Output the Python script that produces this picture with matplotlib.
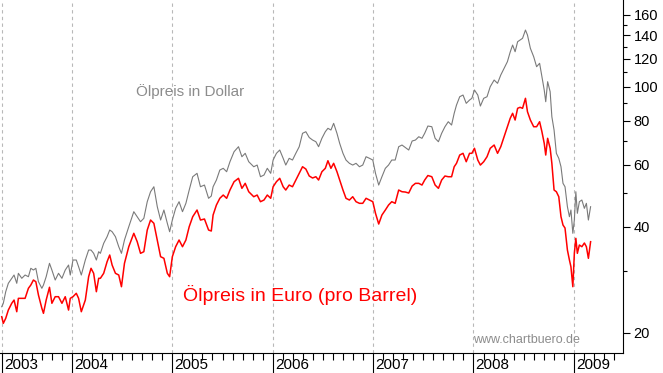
import matplotlib
matplotlib.use("Agg")
import matplotlib.pyplot as plt
from matplotlib.ticker import FixedLocator, NullFormatter, MultipleLocator

# time axis in decimal years, prices per barrel
t = [2003.300, 2003.316, 2003.340, 2003.366, 2003.400, 2003.423, 2003.450, 2003.466, 2003.500, 2003.533,
     2003.566, 2003.590, 2003.616, 2003.640, 2003.666, 2003.700, 2003.716, 2003.743, 2003.776, 2003.800,
     2003.833, 2003.866, 2003.900, 2003.933, 2003.966, 2003.983, 2004.010, 2004.043, 2004.066, 2004.093,
     2004.133, 2004.166, 2004.190, 2004.216, 2004.243, 2004.266, 2004.283, 2004.316, 2004.350, 2004.376,
     2004.400, 2004.433, 2004.466, 2004.493, 2004.523, 2004.566, 2004.616, 2004.650, 2004.683, 2004.716,
     2004.750, 2004.783, 2004.816, 2004.850, 2004.883, 2004.916, 2004.950, 2004.973, 2005.000, 2005.033,
     2005.067, 2005.101, 2005.135, 2005.168, 2005.203, 2005.246, 2005.280, 2005.320, 2005.361, 2005.388,
     2005.406, 2005.439, 2005.473, 2005.507, 2005.541, 2005.574, 2005.615, 2005.659, 2005.693, 2005.726,
     2005.761, 2005.811, 2005.845, 2005.878, 2005.913, 2005.946, 2005.980, 2006.004, 2006.037, 2006.070,
     2006.104, 2006.130, 2006.164, 2006.197, 2006.230, 2006.264, 2006.297, 2006.330, 2006.364, 2006.397,
     2006.430, 2006.457, 2006.490, 2006.524, 2006.550, 2006.580, 2006.607, 2006.640, 2006.667, 2006.700,
     2006.730, 2006.764, 2006.797, 2006.830, 2006.864, 2006.897, 2006.930, 2006.964, 2006.997, 2007.024,
     2007.056, 2007.088, 2007.122, 2007.154, 2007.186, 2007.220, 2007.255, 2007.288, 2007.321, 2007.355,
     2007.389, 2007.422, 2007.455, 2007.487, 2007.514, 2007.546, 2007.585, 2007.618, 2007.651, 2007.683,
     2007.716, 2007.749, 2007.782, 2007.808, 2007.831, 2007.863, 2007.896, 2007.928, 2007.961, 2007.984,
     2008.010, 2008.043, 2008.069, 2008.102, 2008.135, 2008.167, 2008.206, 2008.240, 2008.272, 2008.305,
     2008.338, 2008.366, 2008.390, 2008.415, 2008.440, 2008.464, 2008.489, 2008.518, 2008.538, 2008.567,
     2008.600, 2008.629, 2008.659, 2008.682, 2008.705, 2008.720, 2008.739, 2008.764, 2008.781, 2008.803,
     2008.826, 2008.850, 2008.872, 2008.892, 2008.912, 2008.936, 2008.956, 2008.971, 2008.990, 2009.005,
     2009.020, 2009.035, 2009.055, 2009.080, 2009.105, 2009.125, 2009.145, 2009.167]

oil_usd = [23.71, 24.25, 26.16, 27.64, 28.56, 29.18, 27.64, 29.51, 28.56, 29.18,
           28.86, 30.49, 30.15, 30.49, 27.93, 26.75, 27.33, 28.86, 31.50, 30.15,
           28.24, 29.51, 28.56, 30.15, 31.15, 29.18, 32.19, 32.19, 30.81, 29.18,
           32.19, 34.36, 34.36, 33.63, 32.19, 33.99, 33.63, 35.91, 37.50, 39.17,
           38.74, 37.50, 35.12, 33.63, 36.69, 40.03, 44.16, 42.74, 41.36, 42.29,
           47.15, 50.33, 52.00, 45.63, 41.82, 44.65, 40.93, 38.74, 41.82, 45.15,
           47.15, 44.16, 46.65, 50.89, 55.52, 56.77, 52.00, 52.58, 48.21, 48.93,
           52.00, 54.33, 58.00, 58.66, 57.37, 61.25, 65.40, 67.57, 63.29, 64.71,
           61.25, 59.27, 59.93, 55.52, 56.14, 58.66, 56.77, 61.93, 64.71, 66.12,
           62.63, 59.93, 62.63, 61.93, 64.71, 67.57, 73.76, 74.54, 71.76, 70.59,
           69.82, 67.57, 71.39, 74.54, 76.22, 75.37, 78.75, 73.76, 69.09, 64.71,
           61.93, 60.61, 59.93, 60.61, 59.27, 59.93, 63.29, 62.63, 61.93, 56.77,
           52.58, 55.52, 58.66, 59.93, 61.93, 61.93, 67.57, 68.32, 67.22, 66.12,
           70.14, 70.59, 72.13, 71.39, 73.76, 77.37, 77.02, 71.39, 69.82, 73.76,
           77.02, 79.58, 77.87, 84.08, 88.76, 93.72, 94.76, 89.76, 91.71, 92.75,
           97.92, 94.76, 88.19, 92.75, 93.72, 100.07, 104.54, 102.32, 108.02, 112.87,
           117.86, 125.57, 131.44, 125.82, 134.34, 135.83, 137.36, 145.01, 140.34, 128.65,
           121.77, 114.07, 116.63, 106.84, 97.92, 90.71, 103.40, 96.85, 82.23, 75.37,
           64.71, 62.63, 59.27, 53.17, 52.00, 45.63, 42.74, 44.65, 38.34, 41.82,
           50.33, 43.70, 47.15, 47.67, 45.15, 46.65, 41.82, 45.63]

oil_eur = [22.21, 21.27, 21.98, 23.20, 24.25, 24.77, 22.95, 25.05, 25.05, 25.05,
           26.75, 27.33, 28.24, 27.93, 25.60, 23.47, 22.71, 24.77, 26.93, 24.25,
           25.32, 25.32, 24.25, 25.32, 23.20, 25.05, 25.32, 25.89, 25.05, 22.95,
           24.77, 28.86, 30.49, 29.51, 26.16, 28.56, 28.56, 29.51, 31.84, 33.26,
           31.15, 29.51, 29.18, 27.03, 31.50, 35.12, 38.34, 36.29, 33.63, 33.99,
           39.17, 41.82, 40.93, 36.69, 32.90, 32.55, 29.51, 28.86, 32.90, 35.12,
           36.69, 35.12, 36.69, 40.03, 42.74, 44.65, 41.82, 42.10, 39.17, 38.92,
           43.21, 46.13, 48.21, 49.25, 48.21, 50.89, 53.74, 54.95, 51.46, 53.17,
           50.33, 48.71, 49.25, 47.15, 47.67, 49.25, 48.21, 52.00, 53.74, 54.95,
           52.00, 50.89, 52.58, 52.00, 54.33, 56.77, 59.27, 58.39, 55.78, 55.06,
           55.52, 54.33, 57.37, 58.66, 61.65, 58.66, 60.61, 57.37, 54.33, 50.89,
           48.21, 47.67, 48.71, 47.15, 46.65, 46.65, 48.21, 47.67, 47.15, 43.70,
           40.74, 43.21, 44.65, 46.13, 47.15, 46.65, 50.89, 50.33, 50.23, 49.90,
           52.24, 53.17, 53.17, 52.58, 54.33, 55.96, 55.52, 52.58, 51.46, 54.33,
           55.78, 55.52, 55.52, 59.27, 60.61, 63.99, 64.71, 61.25, 64.71, 64.71,
           66.87, 61.93, 59.93, 61.25, 63.29, 66.87, 68.32, 64.71, 67.57, 72.13,
           77.02, 81.37, 84.08, 80.46, 86.88, 87.45, 86.88, 92.75, 84.97, 80.46,
           77.02, 77.02, 79.58, 74.54, 69.09, 63.99, 71.39, 66.87, 60.61, 50.89,
           50.33, 48.71, 42.74, 40.47, 39.69, 34.36, 32.19, 30.81, 27.03, 33.63,
           37.10, 33.63, 35.51, 35.12, 35.98, 35.12, 32.55, 36.29]

years = [2004, 2005, 2006, 2007, 2008, 2009]
y_major = [20, 40, 60, 80, 100, 120, 140, 160]
y_minor = [30, 50, 70, 90, 110, 130, 150]

plt.rcParams['font.family'] = ['Liberation Sans', 'DejaVu Sans']
tick_font = ['Liberation Sans Narrow', 'Liberation Sans', 'DejaVu Sans']

fig = plt.figure(figsize=(6.63, 3.73), dpi=100)
ax = fig.add_axes([0.0, 0.0544, 0.9397, 0.9456])

ax.set_yscale('log')
ax.set_ylim(17.55, 176.5)
ax.set_xlim(2003.283, 2009.49)

# year separators
year_pos = [t[0]] + years
for yp in year_pos:
    ax.axvline(yp, color='#b8b8b8', lw=0.8, ls=(0, (3, 3)), zorder=1)

ax.plot(t, oil_usd, color='#7a7a7a', lw=0.8, zorder=3)
ax.plot(t, oil_eur, color='#ff0000', lw=1.1, zorder=4)

# axes frame
for side in ['top', 'left']:
    ax.spines[side].set_visible(False)
ax.spines['right'].set_linewidth(0.8)
ax.spines['bottom'].set_linewidth(0.8)

# y axis on the right
ax.yaxis.tick_right()
ax.yaxis.set_major_locator(FixedLocator(y_major))
ax.yaxis.set_minor_locator(FixedLocator(y_minor))
ax.yaxis.set_minor_formatter(NullFormatter())
ax.set_yticklabels([str(v) for v in y_major])
ax.tick_params(axis='y', which='major', length=5, width=0.8, pad=2.5, labelsize=10.5)
ax.tick_params(axis='y', which='minor', length=2.7, width=0.8)
for lab in ax.get_yticklabels():
    lab.set_family(tick_font)

# x axis: long year ticks, short minor ticks, labels to the right of the year tick
ax.xaxis.set_major_locator(FixedLocator(year_pos))
ax.xaxis.set_minor_locator(MultipleLocator(0.1))
ax.tick_params(axis='x', which='major', length=15, width=0.8, labelbottom=False)
ax.tick_params(axis='x', which='minor', length=5, width=0.8)
for yp, lab in zip(year_pos, ['2003'] + [str(y) for y in years]):
    ax.annotate(lab, xy=(yp, 0), xycoords=('data', 'axes fraction'),
                xytext=(1.5, -3.5), textcoords='offset points',
                ha='left', va='top', fontsize=11, family=tick_font)

ax.text(0.218, 0.74, 'Ölpreis in Dollar', transform=ax.transAxes,
        color='#8c8c8c', fontsize=11, va='center', ha='left')
ax.text(0.293, 0.163, 'Ölpreis in Euro (pro Barrel)', transform=ax.transAxes,
        color='#ff0000', fontsize=14, va='center', ha='left')
ax.text(0.93, 0.036, 'www.chartbuero.de', transform=ax.transAxes,
        color='#8c8c8c', fontsize=9, va='center', ha='right', family=tick_font)

fig.savefig('out.png', dpi=100, facecolor='white')
